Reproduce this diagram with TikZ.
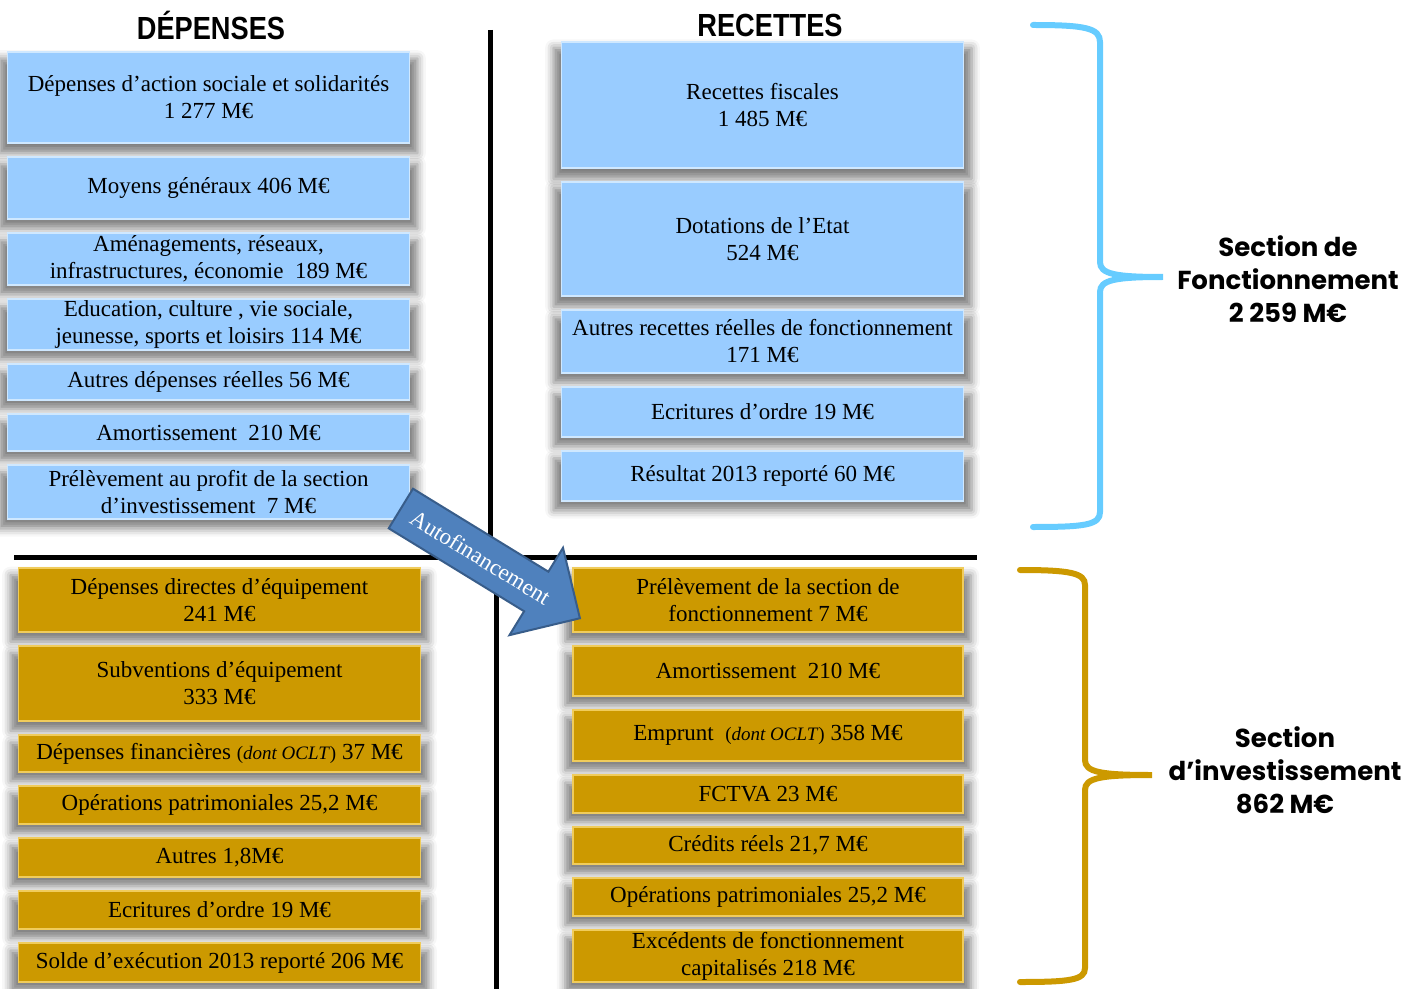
\documentclass[tikz,border=0pt]{standalone}
\usepackage{fontspec}
\setmainfont{Liberation Serif}
\newfontfamily\headfont{Liberation Sans}
\newfontfamily\sectfont{Poppins}
\usepackage{graphicx}
\usetikzlibrary{positioning,shapes.arrows,shadows.blur}
\definecolor{fblue}{HTML}{99CCFF}
\definecolor{fedge}{HTML}{CFE8FF}
\definecolor{igold}{HTML}{CC9900}
\definecolor{iedge}{HTML}{F0CC5C}
\definecolor{braceblue}{HTML}{66CCFF}
\definecolor{arrowblue}{HTML}{4F81BD}
\definecolor{arrowedge}{HTML}{385D8A}
\newcommand{\oclt}{{\fontsize{9.5}{10}\selectfont(\textit{dont OCLT})}}

\begin{document}
\begin{tikzpicture}[
x=0.5pt, y=-0.5pt,
node distance=7pt,
fonct/.style={
  draw=fedge,
  fill=fblue,
  line width=0.8pt,
  outer sep=0pt,
  minimum width=201pt,
  inner xsep=2pt,
  inner ysep=0pt,
  align=center,
  font=\fontsize{11.5}{13.5}\selectfont,
  blur shadow={shadow xshift=0pt, shadow yshift=-4pt, shadow scale=1.04, shadow blur radius=4pt, shadow opacity=50}
  },
invest/.style={
  fonct,
  draw=iedge,
  fill=igold
  },
title/.style={
  font=\headfont\bfseries\fontsize{16}{16}\selectfont
  },
sect/.style={
  align=center,
  font=\sectfont\bfseries\fontsize{13}{16.5}\selectfont
  },
brace/.style={
  line width=3pt,
  line cap=round
  },
sep/.style={
  line width=2.5pt
  }
]
\useasboundingbox (0,0) rectangle (1417,989);

\draw[sep] (490,30) -- (490,552);
\draw[sep] (14,557) -- (977,557);
\draw[sep] (496,560) -- (496,989);

\node[title] (hdep) at (211,25) {\scalebox{0.85}[1]{DÉPENSES}};
\node[title] (hrec) at (770,25) {\scalebox{0.85}[1]{RECETTES}};

\node[fonct, minimum height=45.5pt] (d1) at (208.5,97.5) {Dépenses d’action sociale et solidarités\\1 277 M€};
\node[fonct, minimum height=31pt, below=of d1] (d2) {Moyens généraux 406 M€};
\node[fonct, minimum height=26pt, below=of d2] (d3) {Aménagements, réseaux,\\infrastructures, économie~~189 M€};
\node[fonct, minimum height=25.5pt, below=of d3] (d4) {Education, culture , vie sociale,\\jeunesse, sports et loisirs 114 M€};
\node[fonct, minimum height=18pt, below=of d4] (d5) {Autres dépenses réelles 56 M€};
\node[fonct, minimum height=18.5pt, below=of d5] (d6) {Amortissement~~210 M€};
\node[fonct, minimum height=27pt, below=of d6] (d7) {Prélèvement au profit de la section\\d’investissement~~7 M€};

\node[fonct, minimum height=63pt] (r1) at (762.5,105) {Recettes fiscales\\1 485 M€};
\node[fonct, minimum height=57pt, below=of r1] (r2) {Dotations de l’Etat\\524 M€};
\node[fonct, minimum height=31.5pt, below=of r2] (r3) {Autres recettes réelles de fonctionnement\\171 M€};
\node[fonct, minimum height=25pt, below=of r3] (r4) {Ecritures d’ordre 19 M€};
\node[fonct, minimum height=25pt, below=of r4] (r5) {Résultat 2013 reporté 60 M€};

\node[invest, minimum height=32pt] (di1) at (219.5,600) {Dépenses directes d’équipement\\241 M€};
\node[invest, minimum height=37.5pt, below=of di1] (di2) {Subventions d’équipement\\333 M€};
\node[invest, minimum height=18.5pt, below=of di2] (di3) {Dépenses financières \oclt{} 37 M€};
\node[invest, minimum height=19pt, below=of di3] (di4) {Opérations patrimoniales 25,2 M€};
\node[invest, minimum height=19.5pt, below=of di4] (di5) {Autres 1,8M€};
\node[invest, minimum height=19pt, below=of di5] (di6) {Ecritures d’ordre 19 M€};
\node[invest, minimum height=19.5pt, below=of di6] (di7) {Solde d’exécution 2013 reporté 206 M€};

\node[invest, minimum width=195pt, minimum height=32pt] (ri1) at (768,600) {Prélèvement de la section de\\fonctionnement 7 M€};
\node[invest, minimum width=195pt, minimum height=25pt, below=of ri1] (ri2) {Amortissement~~210 M€};
\node[invest, minimum width=195pt, minimum height=25.5pt, below=of ri2] (ri3) {Emprunt~~\oclt{} 358 M€};
\node[invest, minimum width=195pt, minimum height=19pt, below=of ri3] (ri4) {FCTVA 23 M€};
\node[invest, minimum width=195pt, minimum height=18.5pt, below=of ri4] (ri5) {Crédits réels 21,7 M€};
\node[invest, minimum width=195pt, minimum height=19pt, below=of ri5] (ri6) {Opérations patrimoniales 25,2 M€};
\node[invest, minimum width=195pt, minimum height=26pt, below=of ri6] (ri7) {Excédents de fonctionnement\\capitalisés 218 M€};

\draw[brace, braceblue] (1033,25) .. controls (1085,25) and (1100,28) .. (1100,42) -- (1100,262) .. controls (1100,274) and (1115,277) .. (1163,277) .. controls (1115,277) and (1100,280) .. (1100,292) -- (1100,512) .. controls (1100,525) and (1085,527) .. (1033,527);
\draw[brace, igold] (1020,570) .. controls (1070,570) and (1085,573) .. (1085,585) -- (1085,760) .. controls (1085,772) and (1100,775) .. (1152,775) .. controls (1100,775) and (1085,778) .. (1085,790) -- (1085,968) .. controls (1085,980) and (1070,982) .. (1020,982);

\node[sect] (sfonct) at (1288,279) {Section de\\Fonctionnement\\2 259 M€};
\node[sect] (sinvest) at (1285,770) {Section\\d’investissement\\862 M€};

\node[single arrow, draw=arrowedge, fill=arrowblue, line width=1pt, rotate=-31.5, anchor=tail,
  minimum height=105pt, minimum width=51pt, single arrow head extend=14pt, inner xsep=2pt, inner ysep=7pt,
  text=white, font=\fontsize{11.5}{12}\selectfont] (autofin) at (400,508) {Autofinancement};
\end{tikzpicture}
\end{document}
